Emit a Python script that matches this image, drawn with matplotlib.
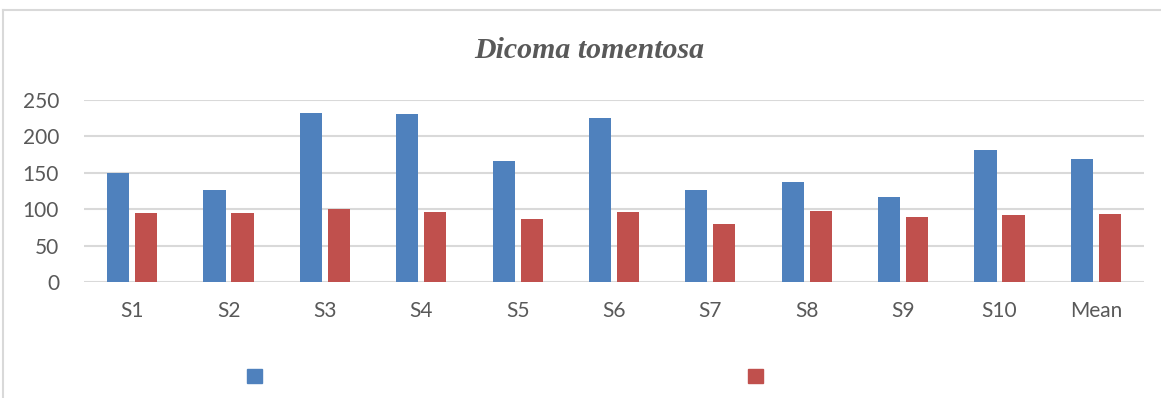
import numpy as np
import matplotlib
matplotlib.use('Agg')
import matplotlib.pyplot as plt
from matplotlib.patches import Patch
from matplotlib.lines import Line2D

## the data
categories = ['S1', 'S2', 'S3', 'S4', 'S5', 'S6', 'S7', 'S8', 'S9', 'S10', 'Mean']
series_a = [150, 127, 232, 231, 166, 225, 126, 137, 117, 181, 169]
series_b = [95, 95, 100, 96, 87, 96, 80, 97, 89, 92, 93]
yticks = [0, 50, 100, 150, 200, 250]

blue = '#4f81bd'
red = '#c0504d'
txt = '#595959'
grid = '#d9d9d9'

fig = plt.figure(figsize=(11.61, 3.98), dpi=100)
ax = fig.add_axes([84 / 1161, 1 - 282 / 398, (1144 - 84) / 1161, (282 - 100) / 398])

ind = np.arange(len(categories))
width = 0.23
off = 0.145
ax.bar(ind - off, series_a, width, color=blue, zorder=3)
ax.bar(ind + off, series_b, width, color=red, zorder=3)

ax.set_xlim(-0.5, len(categories) - 0.5)
ax.set_ylim(0, 250)
ax.set_yticks(yticks)
ax.set_xticks(ind)
ax.set_xticklabels(categories)
ax.tick_params(length=0, labelsize=15, labelcolor=txt)
ax.tick_params(axis='x', pad=14)
ax.tick_params(axis='y', pad=18)
for lbl in ax.get_xticklabels() + ax.get_yticklabels():
    lbl.set_family('Lato')
ax.yaxis.grid(True, color=grid, linewidth=1.5, zorder=0)
for s in ax.spines.values():
    s.set_visible(False)

# chart border (left and top visible)
fig.add_artist(Line2D([3 / 1161, 3 / 1161], [0, 1 - 10 / 398], color=grid, linewidth=1.5))
fig.add_artist(Line2D([3 / 1161, 1], [1 - 10 / 398, 1 - 10 / 398], color=grid, linewidth=1.5))

fig.text(589 / 1161, 1 - 51 / 398, 'Dicoma tomentosa', ha='center', va='center',
         fontsize=21.5, style='italic', weight='bold', color=txt, family='Liberation Serif')

handles = [Patch(color=blue), Patch(color=red)]
fig.legend(handles, ['', ''], ncol=2, loc='center', bbox_to_anchor=(505 / 1161, 1 - 377 / 398),
           frameon=False, fontsize=14, handlelength=0.75, handleheight=0.75,
           handletextpad=0, columnspacing=25)

fig.savefig('out.png', dpi=100)
